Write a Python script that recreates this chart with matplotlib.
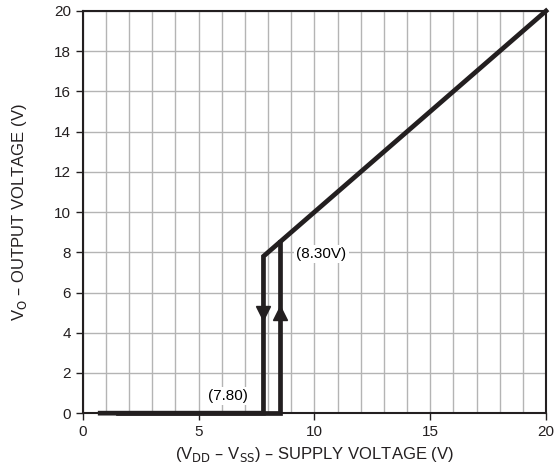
import numpy as np
import matplotlib
matplotlib.use("Agg")
import matplotlib.pyplot as plt
from matplotlib.ticker import MultipleLocator

plt.rcParams['font.family'] = ['Liberation Sans', 'DejaVu Sans']

# transfer curve (hysteresis)
vdd_down = [0.75, 7.8, 7.8, 20.0]
vo_down = [0.0, 0.0, 7.8, 20.0]
vdd_up = [1.5, 8.5, 8.5]
vo_up = [0.0, 0.0, 8.5]
arrow_y = 5.0
lbl_hi = "(8.30V)"
lbl_lo = "(7.80)"

col = '#231f20'
fig = plt.figure(figsize=(5.56, 4.76), dpi=100)
ax = fig.add_axes([0.149, 0.132, 0.833, 0.845])

ax.plot(vdd_down, vo_down, color=col, lw=3.4, solid_joinstyle='miter', zorder=3, clip_on=False)
ax.plot(vdd_up, vo_up, color=col, lw=3.4, solid_joinstyle='miter', zorder=3, clip_on=False)

# direction arrows
ax.plot(vdd_down[1], arrow_y, marker='v', color=col, ms=10, zorder=4)
ax.plot(vdd_up[1], arrow_y, marker='^', color=col, ms=10, zorder=4)

ax.text(10.3, 7.9, lbl_hi, ha='center', va='center', fontsize=11,
        bbox=dict(facecolor='white', edgecolor='none', pad=1.5), zorder=5)
ax.text(6.25, 0.85, lbl_lo, ha='center', va='center', fontsize=11,
        bbox=dict(facecolor='white', edgecolor='none', pad=1.5), zorder=5)

ax.set_xlim(0, 20)
ax.set_ylim(0, 20)
ax.xaxis.set_major_locator(MultipleLocator(5))
ax.xaxis.set_minor_locator(MultipleLocator(1))
ax.yaxis.set_major_locator(MultipleLocator(2))
ax.grid(which='both', axis='x', color='#b4b4b4', lw=1.0)
ax.grid(which='major', axis='y', color='#b4b4b4', lw=1.0)
ax.set_axisbelow(True)
ax.tick_params(which='major', direction='out', length=5, width=1, labelsize=11, colors=col)
ax.tick_params(which='minor', length=0)
for s in ax.spines.values():
    s.set_color(col)
    s.set_linewidth(1.5)

ax.set_xlabel(r'(V$_{\mathrm{DD}}$ – V$_{\mathrm{SS}}$) – SUPPLY VOLTAGE (V)', fontsize=12, color=col)
ax.set_ylabel(r'V$_{\mathrm{O}}$ – OUTPUT VOLTAGE (V)', fontsize=12, color=col, labelpad=18)

fig.savefig('out.png', dpi=100)
